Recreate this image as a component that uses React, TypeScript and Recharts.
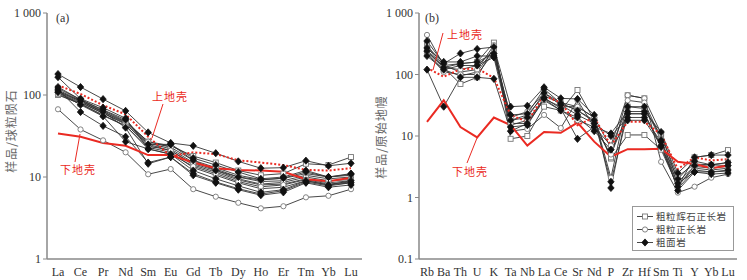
import React from "react";
import { LineChart, Line, XAxis, YAxis, Legend } from "recharts";

// element order on the x axes
const REE = ["La", "Ce", "Pr", "Nd", "Sm", "Eu", "Gd", "Tb", "Dy", "Ho", "Er", "Tm", "Yb", "Lu"];
const SPIDER = ["Rb", "Ba", "Th", "U", "K", "Ta", "Nb", "La", "Ce", "Sr", "Nd", "P", "Zr", "Hf", "Sm", "Ti", "Y", "Yb", "Lu"];

const reeTicks = [1, 10, 100, 1000];
const spiderTicks = [0.1, 1, 10, 100, 1000];

// (a) chondrite normalised
const reeUpperCrust = [131, 103, 75, 58, 31, 18, 20, 19, 16, 15, 14, 12.2, 12, 12.8];
const reeLowerCrust = [34, 31, 26, 24, 18.5, 18.5, 15, 12.8, 12.2, 12, 11.6, 9.4, 8.9, 9.8];

const reeSquares = [
  [120, 88, 65, 48, 27, 24, 18, 15, 12, 10.5, 11, 14.5, 14, 17.5],
  [110, 85, 62, 46, 26, 22, 15, 12.5, 10, 8.8, 9, 10.5, 9.5, 10],
  [105, 80, 60, 44, 25, 21, 14, 11.5, 9.2, 8, 8.2, 9.5, 8.5, 9],
  [100, 78, 57, 42, 23, 20, 13, 10.5, 8.5, 7.2, 7.5, 9, 8, 8.5],
];
const reeCircles = [
  [67, 38, 28, 20, 10.8, 12.5, 7.1, 5.75, 4.85, 4.15, 4.4, 5.65, 5.9, 7.1],
  [115, 86, 63, 47, 27, 23, 16, 13, 10.5, 9.3, 9.6, 11, 10, 10.5],
  [108, 82, 60, 45, 24, 21, 14.5, 12, 9.5, 8.2, 8.6, 10, 9, 9.3],
  [102, 78, 56, 42, 22, 19, 13.5, 11, 8.8, 7.6, 8, 9.3, 8.2, 8.7],
];
const reeDiamonds = [
  [180, 125, 89, 64, 35, 26, 24, 19.5, 15.5, 12.8, 13, 15.8, 13.7, 14.7],
  [165, 90, 70, 52, 22, 25, 17, 14, 11.5, 9.5, 10, 12, 10, 11],
  [112, 84, 62, 40, 14.5, 17.5, 10.5, 8.5, 7, 6, 6.5, 8.5, 7.5, 8],
  [118, 62, 42, 31, 15, 17.5, 11, 8.7, 7.2, 6.2, 6.8, 8.7, 7.8, 8.5],
  [108, 76, 55, 27, 22, 19, 12, 9.5, 7.8, 6.5, 7, 9, 8, 9],
  [125, 88, 66, 50, 25, 25, 16, 12, 10, 9.2, 9.7, 11.5, 10, 10.8],
];

// (b) primitive mantle normalised
const spUpperCrust = [128, 92, 122, 125, 88, 22, 17, 45, 35, 15, 20, 7, 17, 17, 10.6, 2.9, 4.5, 4, 4.2];
const spLowerCrust = [17, 38, 14, 9.5, 20, 15, 7, 11.6, 11.3, 16.5, 8.1, 4.6, 6.1, 6.1, 6.2, 3.8, 3.5, 3, 3.3];

const spSquares = [
  [300, 140, 150, 160, 330, 9, 10, 30, 26, 56, 18, 4.3, 10.4, 10.4, 6, 1.5, 4.5, 4.9, 5.9],
  [250, 130, 70, 90, 280, 15, 18, 40, 30, 30, 20, 6.5, 30, 28, 10, 2.2, 3.5, 3.4, 3.7],
  [230, 120, 95, 110, 260, 18, 22, 45, 34, 26, 17, 4.5, 46, 41, 11, 1.8, 3.2, 3, 3.2],
];
const spCircles = [
  [440, 140, 110, 120, 300, 12, 13, 22, 13.5, 38, 14, 7, 46, 41, 3.8, 1.2, 1.5, 2.1, 2.4],
  [280, 130, 120, 140, 250, 20, 25, 50, 35, 30, 20, 2.1, 38, 35, 9, 1.6, 3, 2.8, 3],
  [220, 110, 100, 100, 230, 16, 16, 38, 26, 18, 14, 5, 23, 23, 7, 1.4, 2.8, 2.6, 2.7],
];
const spDiamonds = [
  [120, 30, 90, 90, 85, 12, 16, 42, 28, 9, 14, 11, 25, 25, 11.6, 2.5, 4.5, 4.9, 4.9],
  [350, 150, 220, 260, 280, 30, 31, 62, 41, 40, 22, 1.43, 30, 30, 8.6, 1.3, 2.6, 2.6, 2.8],
  [270, 160, 160, 200, 200, 22, 23, 58, 34, 26, 18, 1.8, 23, 23, 6.6, 1.5, 3.3, 3.4, 3.7],
  [240, 130, 150, 160, 220, 18, 20, 50, 32, 22, 16, 10, 20, 20, 8, 2, 3.9, 3.4, 3.3],
  [200, 120, 140, 140, 190, 14, 15, 40, 26, 20, 12, 6, 18, 18, 7, 1.7, 2.6, 2.4, 2.5],
];

const legendItems = [
  { kind: "square", label: "粗粒辉石正长岩" },
  { kind: "circle", label: "粗粒正长岩" },
  { kind: "diamond", label: "粗面岩" },
];

const RED = "#ea2a22";
const SERIF = "'Liberation Serif', 'Times New Roman', serif";
const CJK = "'Noto Sans CJK SC', sans-serif";

type Kind = "square" | "circle" | "diamond";

function Marker({ cx, cy, kind }: { cx: number; cy: number; kind: Kind }) {
  if (cx == null || cy == null || isNaN(cx) || isNaN(cy)) return null;
  if (kind === "square")
    return <rect x={cx - 2.5} y={cy - 2.5} width={5} height={5} fill="#fff" stroke="#777" strokeWidth={0.9} />;
  if (kind === "circle")
    return <circle cx={cx} cy={cy} r={2.6} fill="#fff" stroke="#777" strokeWidth={0.9} />;
  return (
    <path
      d={`M${cx},${cy - 3.6}L${cx + 3.2},${cy}L${cx},${cy + 3.6}L${cx - 3.2},${cy}Z`}
      fill="#111"
      stroke="#111"
      strokeWidth={0.8}
    />
  );
}

function buildSeries(squares: number[][], circles: number[][], diamonds: number[][]) {
  const out: { key: string; kind: Kind; values: number[] }[] = [];
  squares.forEach((v, i) => out.push({ key: `sq${i}`, kind: "square", values: v }));
  circles.forEach((v, i) => out.push({ key: `ci${i}`, kind: "circle", values: v }));
  diamonds.forEach((v, i) => out.push({ key: `di${i}`, kind: "diamond", values: v }));
  return out;
}

function buildRows(cats: string[], upper: number[], lower: number[], series: { key: string; values: number[] }[]) {
  return cats.map((el, i) => {
    const row: Record<string, string | number> = { el, uc: upper[i], lc: lower[i] };
    series.forEach((s) => (row[s.key] = s.values[i]));
    return row;
  });
}

const reeSeries = buildSeries(reeSquares, reeCircles, reeDiamonds);
const spSeries = buildSeries(spSquares, spCircles, spDiamonds);
const reeData = buildRows(REE, reeUpperCrust, reeLowerCrust, reeSeries);
const spData = buildRows(SPIDER, spUpperCrust, spLowerCrust, spSeries);

const fmtTick = (v: number) => (v === 1000 ? "1 000" : String(v));

const tickStyle = { fontFamily: SERIF, fontSize: 12, fill: "#333" };

function sampleLines(series: { key: string; kind: Kind }[]) {
  return series.map((s) => (
    <Line
      key={s.key}
      dataKey={s.key}
      stroke="#333"
      strokeWidth={0.9}
      isAnimationActive={false}
      activeDot={false}
      dot={(p: any) => <Marker key={`${s.key}-${p.index}`} cx={p.cx} cy={p.cy} kind={s.kind} />}
    />
  ));
}

function crustLines() {
  return [
    <Line key="uc" dataKey="uc" stroke={RED} strokeWidth={2} strokeDasharray="2 2" dot={false} activeDot={false} isAnimationActive={false} />,
    <Line key="lc" dataKey="lc" stroke={RED} strokeWidth={2} dot={false} activeDot={false} isAnimationActive={false} />,
  ];
}

function LegendBox() {
  return (
    <div
      style={{
        border: "1px solid #999",
        background: "#fff",
        padding: "3px 0 2px 4px",
        boxSizing: "border-box",
        width: 102,
        height: 45,
        whiteSpace: "nowrap",
      }}
    >
      {legendItems.map((it) => (
        <div key={it.label} style={{ display: "flex", alignItems: "center", height: 13, overflow: "hidden" }}>
          <svg width={16} height={13} style={{ flex: "none" }}>
            <line x1={0} y1={6.5} x2={16} y2={6.5} stroke="#333" strokeWidth={0.9} />
            <Marker cx={8} cy={6.5} kind={it.kind as Kind} />
          </svg>
          <span
            style={{
              display: "block",
              height: 13,
              lineHeight: "13px",
              fontFamily: CJK,
              fontSize: 9.5,
              color: "#444",
              marginLeft: 3,
              letterSpacing: 0.6,
            }}
          >
            {it.label}
          </span>
        </div>
      ))}
    </div>
  );
}

export default function App() {
  return (
    <div style={{ position: "relative", width: 747, height: 280, background: "#fff" }}>
      <style>{`body{margin:0}`}</style>
      <div style={{ position: "absolute", left: 0, top: 0 }}>
        <LineChart width={370} height={280} data={reeData} margin={{ top: 13, right: 8, bottom: 0, left: 7 }}>
          <XAxis
            dataKey="el"
            interval={0}
            height={21}
            padding={{ left: 11, right: 11 }}
            tickLine={false}
            axisLine={{ stroke: "#888", strokeWidth: 1.5 }}
            tick={tickStyle}
          />
          <YAxis
            scale="log"
            type="number"
            domain={[1, 1000]}
            ticks={reeTicks}
            allowDataOverflow
            width={40}
            tickSize={4}
            tickFormatter={fmtTick}
            tickLine={{ stroke: "#888" }}
            axisLine={{ stroke: "#888", strokeWidth: 1.5 }}
            tick={tickStyle}
          />
          {sampleLines(reeSeries)}
          {crustLines()}
        </LineChart>
      </div>
      <div style={{ position: "absolute", left: 370, top: 0 }}>
        <LineChart width={377} height={280} data={spData} margin={{ top: 13, right: 10, bottom: 0, left: 9 }}>
          <XAxis
            dataKey="el"
            interval={0}
            height={21}
            padding={{ left: 8, right: 9 }}
            tickLine={false}
            axisLine={{ stroke: "#888", strokeWidth: 1.5 }}
            tick={tickStyle}
          />
          <YAxis
            scale="log"
            type="number"
            domain={[0.1, 1000]}
            ticks={spiderTicks}
            allowDataOverflow
            width={40}
            tickSize={4}
            tickFormatter={fmtTick}
            tickLine={{ stroke: "#888" }}
            axisLine={{ stroke: "#888", strokeWidth: 1.5 }}
            tick={tickStyle}
          />
          {sampleLines(spSeries)}
          {crustLines()}
          <Legend
            layout="horizontal"
            verticalAlign="middle"
            content={() => <LegendBox />}
            wrapperStyle={{ left: 262, top: 206, width: 102, height: 45 }}
          />
        </LineChart>
      </div>
      {/* axis titles, panel letters and crust annotations */}
      <svg width={747} height={280} style={{ position: "absolute", left: 0, top: 0, pointerEvents: "none" }}>
        <text x={56} y={22} fontFamily={SERIF} fontSize={12} fill="#333">(a)</text>
        <text x={425} y={22} fontFamily={SERIF} fontSize={12} fill="#333">(b)</text>
        <text transform="translate(16,131) rotate(-90)" textAnchor="middle" fontFamily={CJK} fontSize={12} fill="#666" letterSpacing={1}>样品/球粒陨石</text>
        <text transform="translate(386,137) rotate(-90)" textAnchor="middle" fontFamily={CJK} fontSize={12} fill="#666" letterSpacing={1}>样品/原始地幔</text>
        <text x={152} y={101} fontFamily={CJK} fontSize={11} fill={RED} letterSpacing={1}>上地壳</text>
        <line x1={163} y1={104} x2={152} y2={138} stroke={RED} strokeWidth={1} />
        <text x={60} y={174} fontFamily={CJK} fontSize={11} fill={RED} letterSpacing={1}>下地壳</text>
        <line x1={80} y1={134} x2={75} y2={162} stroke={RED} strokeWidth={1} />
        <text x={447} y={39} fontFamily={CJK} fontSize={11} fill={RED} letterSpacing={1}>上地壳</text>
        <line x1={443} y1={33} x2={433} y2={70} stroke={RED} strokeWidth={1} />
        <text x={452} y={176} fontFamily={CJK} fontSize={11} fill={RED} letterSpacing={1}>下地壳</text>
        <line x1={477} y1={138} x2={467} y2={163} stroke={RED} strokeWidth={1} />
      </svg>
    </div>
  );
}
